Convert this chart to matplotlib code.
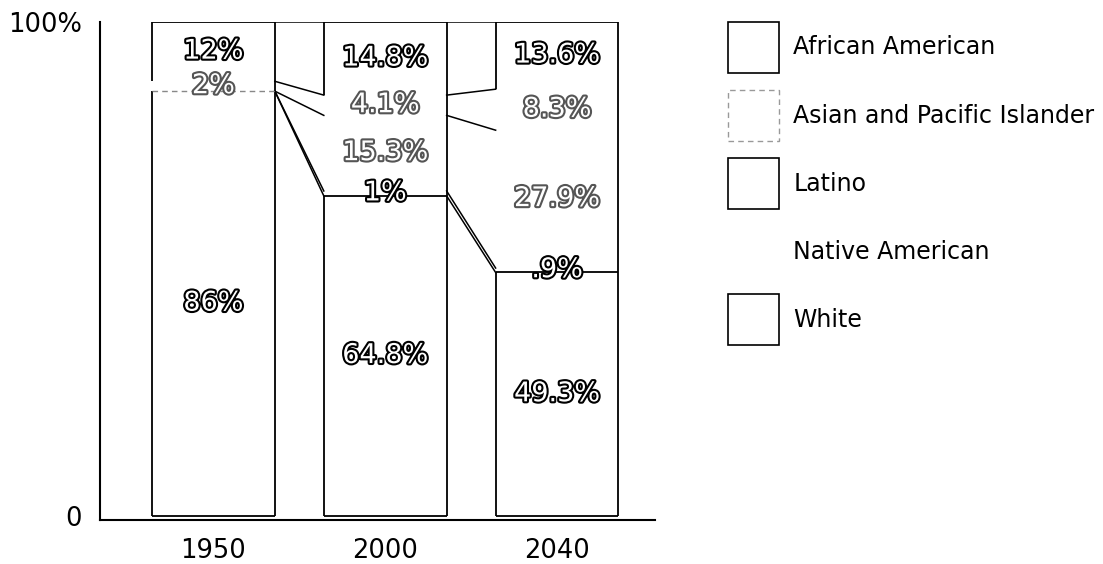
import numpy as np
import matplotlib
matplotlib.use("Agg")
import matplotlib.pyplot as plt
from matplotlib.patches import Patch
import matplotlib.patheffects as pe

# data ==========================================================================
years = ['1950', '2000', '2040']
# stacked bottom -> top
white = [86, 64.8, 49.3]
native = [0, 1, 0.9]
latino = [0, 15.3, 27.9]
asian = [2, 4.1, 8.3]
african = [12, 14.8, 13.6]

legend_names = ['African American', 'Asian and Pacific Islander', 'Latino',
                'Native American', 'White']


def pct(v):
    s = f'{v:g}'
    if s.startswith('0.'):
        s = s[1:]
    return s + '%'


fig = plt.figure(figsize=(11.03, 5.64), dpi=100)
ax = fig.add_axes([100 / 1103, 44 / 564, 555 / 1103, 498 / 564])

x = np.arange(len(years))
w = 0.715
stack = np.vstack([white, native, latino, asian, african])
tops = np.cumsum(stack, axis=0)
bottoms = tops - stack
n = len(years)

# bars (white fills) ===========================================================
for k in range(stack.shape[0]):
    ax.bar(x, stack[k], w, bottom=bottoms[k], color='white', linewidth=0, zorder=1)

lw = 1.3
# right edges full height, left edges only for White and African American
ax.vlines(x + w / 2, np.zeros(n), np.full(n, 100), color='black', lw=lw, zorder=3)
ax.vlines(x - w / 2, np.zeros(n), tops[0], color='black', lw=lw, zorder=3)
ax.vlines(x - w / 2, bottoms[4], tops[4], color='black', lw=lw, zorder=3)
ax.hlines(np.zeros(n), x - w / 2, x + w / 2, color='black', lw=lw, zorder=3)
ax.hlines(np.full(n, 100), x - w / 2, x + w / 2, color='black', lw=lw, zorder=3)
for i in range(n):
    if native[i] + latino[i] == 0:
        ax.hlines(tops[0][i], x[i] - w / 2, x[i] + w / 2, color='#888888',
                  lw=1, linestyles=[(0, (4, 3))], zorder=3)
    else:
        ax.hlines(tops[0][i], x[i] - w / 2, x[i] + w / 2, color='black', lw=lw, zorder=3)

# connector lines between bars at each boundary
for lev in tops:
    for i in range(n - 1):
        ax.plot([x[i] + w / 2, x[i + 1] - w / 2], [lev[i], lev[i + 1]],
                color='black', lw=1.1, zorder=2)

# hollow labels ===============================================================
light = [False, False, True, True, False]
for k in range(stack.shape[0]):
    for i in range(n):
        v = stack[k][i]
        if v == 0:
            continue
        mid = bottoms[k][i] + v / 2
        stroke = '#555555' if light[k] else 'black'
        ax.text(x[i], mid, pct(v), ha='center', va='center', fontsize=19.5,
                color='white', zorder=5,
                path_effects=[pe.withStroke(linewidth=3, foreground=stroke)])

# axes ==========================================================================
ax.set_xlim(-0.66, 2.57)
ax.set_ylim(-0.8, 100)
ax.spines['top'].set_visible(False)
ax.spines['right'].set_visible(False)
ax.spines['left'].set_linewidth(1.5)
ax.spines['bottom'].set_linewidth(1.5)
ax.set_xticks(x)
ax.set_xticklabels(years, fontsize=18.5)
ax.set_yticks([0, 100])
ax.set_yticklabels(['0', '100%'], fontsize=18.5)
ax.tick_params(axis='both', length=0)
ax.tick_params(axis='x', pad=13)
ax.tick_params(axis='y', pad=13)

# legend ========================================================================
handles = [
    Patch(facecolor='white', edgecolor='black', lw=1.2),
    Patch(facecolor='white', edgecolor='#999999', lw=1, linestyle=(0, (4, 3))),
    Patch(facecolor='white', edgecolor='black', lw=1.2),
    Patch(facecolor='none', edgecolor='none'),
    Patch(facecolor='white', edgecolor='black', lw=1.2),
]
fig.legend(handles, legend_names, loc='upper left',
           bbox_to_anchor=(728 / 1103, 1 - 22 / 564), frameon=False,
           fontsize=17, handlelength=2.16, handleheight=2.95,
           handletextpad=0.6, labelspacing=0.72, borderpad=0, borderaxespad=0)

fig.savefig('out.png', dpi=100)
